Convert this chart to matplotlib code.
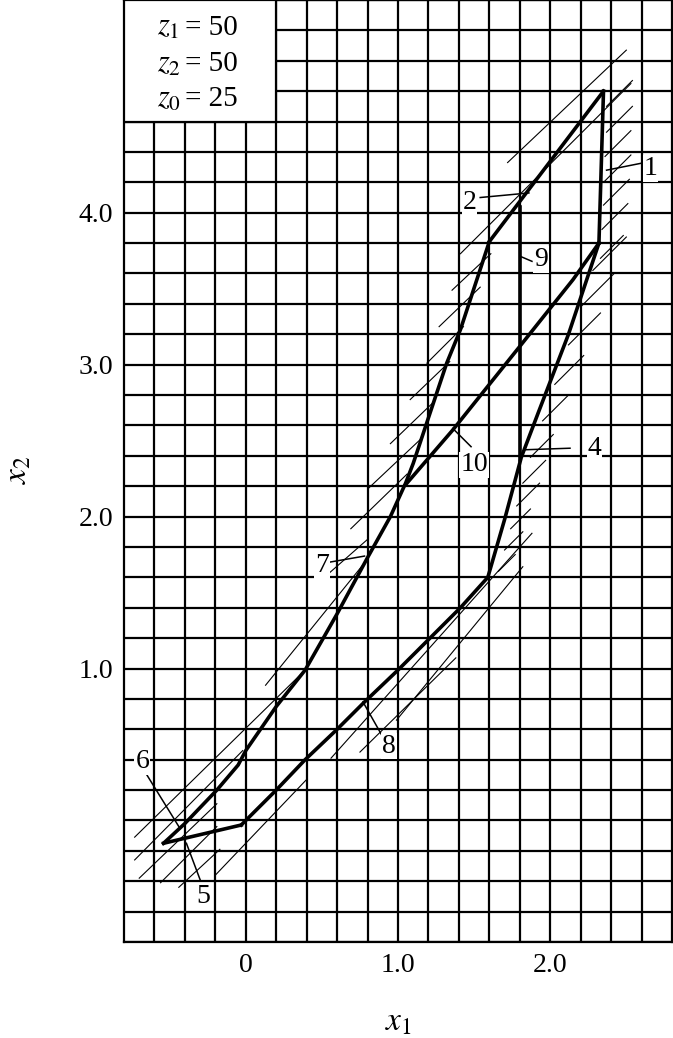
import matplotlib
matplotlib.use("Agg")
import matplotlib.pyplot as plt
from matplotlib.patches import Rectangle
import numpy as np

plt.rcParams["font.family"] = ["Liberation Serif", "DejaVu Serif"]
plt.rcParams["mathtext.fontset"] = "stix"

# boundary curves of the contour (x1, x2)
line1_x = [2.35, 2.32]
line1_y = [4.80, 3.80]
line2_x = [2.35, 1.60]
line2_y = [4.80, 3.81]
line4_x = [2.32, 2.12, 1.92, 1.81, 1.70, 1.59]
line4_y = [3.80, 3.20, 2.68, 2.39, 1.98, 1.60]
line7_x = [1.60, 1.41, 1.32, 1.19, 1.10, 1.05, 0.95, 0.80, 0.60, 0.39, 0.20, 0.00, -0.05, -0.19, -0.40, -0.54]
line7_y = [3.81, 3.23, 3.01, 2.62, 2.35, 2.22, 2.00, 1.73, 1.36, 0.99, 0.75, 0.46, 0.365, 0.20, -0.02, -0.15]
line5_x = [-0.54, -0.03]
line5_y = [-0.15, -0.03]
line8_x = [-0.03, 0.20, 0.39, 0.60, 0.77, 1.00, 1.20, 1.41, 1.59]
line8_y = [-0.03, 0.20, 0.40, 0.60, 0.77, 0.99, 1.19, 1.40, 1.60]
line9_x = [1.80, 1.80]
line9_y = [4.04, 2.37]
line10_x = [2.32, 2.15, 1.80, 1.36, 1.05]
line10_y = [3.80, 3.56, 3.12, 2.57, 2.21]

# thin hatch strokes: start and end points
hatch_x0 = [1.41, 1.72,
            1.355, 1.27, 1.19, 1.08, 0.95, 0.81, 0.69, 0.55, 0.13, -0.73,
            -0.73, -0.70, -0.56, -0.44, -0.20,
            0.56, 0.75, 0.99,
            2.37, 2.37, 2.36, 2.36, 2.35, 2.34, 2.33,
            2.28, 2.20, 2.12, 2.03, 1.95, 1.87, 1.82, 1.78, 1.74, 1.70, 1.66]
hatch_y0 = [3.73, 4.33,
            3.49, 3.25, 3.01, 2.77, 2.48, 2.19, 1.92, 1.63, 0.89, -0.11,
            -0.26, -0.38, -0.41, -0.44, -0.36,
            0.41, 0.45, 0.66,
            4.70, 4.53, 4.37, 4.21, 4.05, 3.89, 3.70,
            3.62, 3.38, 3.13, 2.87, 2.63, 2.39, 2.22, 2.07, 1.92, 1.78, 1.64]
hatch_x1 = [2.53, 2.50,
            1.61, 1.54, 1.43, 1.34, 1.23, 1.16, 1.06, 0.80, 0.80, 0.39,
            -0.02, -0.19, -0.19, -0.17, 0.40,
            1.88, 1.38, 1.82,
            2.54, 2.54, 2.53, 2.53, 2.52, 2.51, 2.48,
            2.50, 2.42, 2.33, 2.22, 2.12, 2.02, 1.97, 1.93, 1.87, 1.82, 1.77]
hatch_y1 = [4.85, 5.07,
            3.73, 3.51, 3.25, 3.02, 2.75, 2.52, 2.28, 1.85, 1.72, 0.99,
            0.46, 0.11, -0.04, -0.19, 0.27,
            1.89, 1.07, 1.67,
            4.87, 4.70, 4.54, 4.38, 4.22, 4.06, 3.85,
            3.84, 3.60, 3.34, 3.06, 2.80, 2.54, 2.37, 2.22, 2.05, 1.90, 1.75]

# curve labels: text position and leader line
lab_text = ["1", "2", "9", "10", "4", "7", "8", "6", "5"]
lab_x = [2.66, 1.47, 1.94, 1.50, 2.29, 0.50, 0.94, -0.68, -0.28]
lab_y = [4.29, 4.07, 3.69, 2.34, 2.45, 1.68, 0.49, 0.39, -0.50]
lead_x0 = [2.37, 1.54, 1.81, 1.36, 1.84, 0.55, 0.77, -0.65, -0.39]
lead_y0 = [4.28, 4.10, 3.71, 2.58, 2.44, 1.70, 0.78, 0.30, -0.15]
lead_x1 = [2.62, 1.86, 1.88, 1.48, 2.13, 0.78, 0.90, -0.44, -0.30]
lead_y1 = [4.33, 4.13, 3.68, 2.46, 2.45, 1.74, 0.55, -0.04, -0.39]

param_sym = [r"$z_1$", r"$z_2$", r"$z_0$"]
param_val = ["50", "50", "25"]
param_y = [5.17, 4.93, 4.70]

xticks = [0.0, 1.0, 2.0]
xticklabels = ["0", "1.0", "2.0"]
yticks = [1.0, 2.0, 3.0, 4.0]
yticklabels = ["1.0", "2.0", "3.0", "4.0"]

fig = plt.figure(figsize=(6.73, 10.38), dpi=100)
ax = fig.add_axes([124 / 673, 96 / 1038, 548 / 673, 942 / 1038])
ax.set_xlim(-0.8, 2.8)
ax.set_ylim(-0.8, 5.4)

grid = np.round(np.arange(-0.8, 5.41, 0.2), 2)
for g in grid:
    if -0.8 < g < 2.8:
        ax.axvline(g, color="black", lw=1.6, zorder=1)
    ax.axhline(g, color="black", lw=1.6, zorder=1)

for x0, y0, x1, y1 in zip(hatch_x0, hatch_y0, hatch_x1, hatch_y1):
    ax.plot([x0, x1], [y0, y1], color="black", lw=0.8, zorder=2)

thick = dict(color="black", lw=2.6, zorder=3, solid_joinstyle="miter")
for xs, ys in [(line1_x, line1_y), (line2_x, line2_y), (line4_x, line4_y),
               (line7_x, line7_y), (line5_x, line5_y), (line8_x, line8_y),
               (line9_x, line9_y), (line10_x, line10_y)]:
    ax.plot(xs, ys, **thick)

for t, x, y, a, b, c, d in zip(lab_text, lab_x, lab_y, lead_x0, lead_y0, lead_x1, lead_y1):
    ax.plot([a, c], [b, d], color="black", lw=1.1, zorder=4)
    ax.text(x, y, t, fontsize=20, ha="center", va="center", zorder=5,
            bbox=dict(facecolor="white", edgecolor="none", pad=0.5))

ax.add_patch(Rectangle((-0.8, 4.6), 1.0, 0.8, facecolor="white",
                       edgecolor="black", lw=1.6, zorder=6))
for s, v, y in zip(param_sym, param_val, param_y):
    ax.text(-0.585, y, s, fontsize=22, ha="left", va="baseline", zorder=7)
    ax.text(-0.40, y, "= " + v, fontsize=21, ha="left", va="baseline", zorder=7)

ax.set_xticks(xticks)
ax.set_xticklabels(xticklabels, fontsize=20)
ax.set_yticks(yticks)
ax.set_yticklabels(yticklabels, fontsize=20)
ax.tick_params(length=0, pad=8)
for sp in ax.spines.values():
    sp.set_linewidth(1.6)

fig.text(398 / 673, 1 - 1022 / 1038, r"$x_1$", fontsize=24, ha="center", va="center")
fig.text(18 / 673, 1 - 470 / 1038, r"$x_2$", fontsize=24, ha="center", va="center",
         rotation=90)

fig.savefig("out.png", dpi=100)
